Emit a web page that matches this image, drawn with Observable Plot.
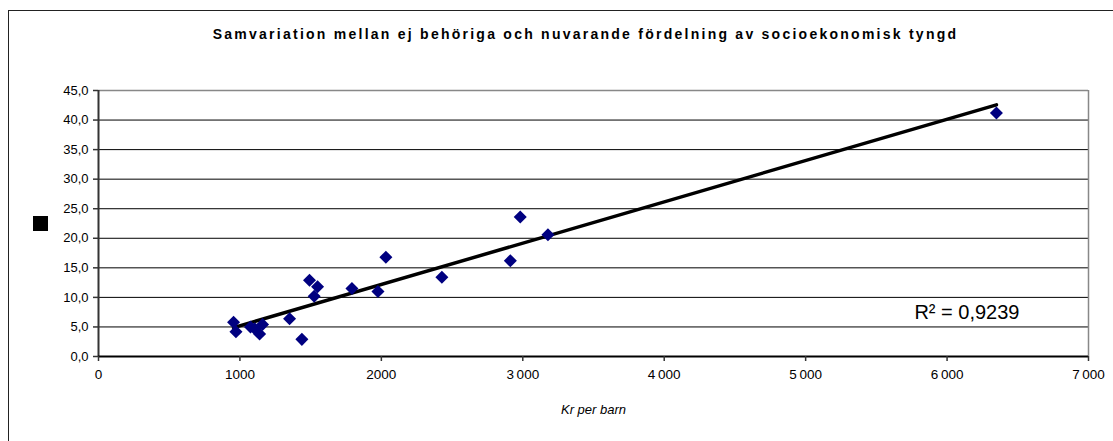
<!DOCTYPE html>
<html>
<head>
<meta charset="utf-8">
<script src="https://cdn.jsdelivr.net/npm/d3@7"></script>
<script src="https://cdn.jsdelivr.net/npm/@observablehq/plot@0.6"></script>
<style>
  html, body { margin: 0; padding: 0; background: #fff; }
  #wrap { position: relative; width: 1113px; height: 441px; overflow: hidden; font-family: "Liberation Sans", Arial, sans-serif; }
  #border { position: absolute; left: 8px; top: 10px; width: 1200px; height: 500px; border-left: 1px solid #222; border-top: 1px solid #222; }
  #title { position: absolute; left: 29px; width: 1113px; top: 26px; text-align: center; font-weight: bold; font-size: 14px; letter-spacing: 2.25px; color: #000; }
  #legendKey { position: absolute; left: 33px; top: 216px; width: 15px; height: 15px; background: #000; }
  #chart { position: absolute; left: 0; top: 0; }
</style>
</head>
<body>
<div id="wrap">
  <div id="border"></div>
  <div id="chart"></div>
  <div id="title"></div>
  <div id="legendKey"></div>
</div>
<script>
const titleText = "Samvariation mellan ej behöriga och nuvarande fördelning av socioekonomisk tyngd";
const xLabel = "Kr per barn";
const r2Label = "R² = 0,9239";

// Kr per barn
const krPerBarn = [955, 972, 1075, 1105, 1160, 1139, 1351, 1438, 1492, 1549, 1525, 1792, 1976, 2032, 2428, 2912, 2982, 3178, 6349];
// Ej behöriga (%)
const ejBehoriga = [5.8, 4.2, 5.0, 4.7, 5.4, 3.8, 6.4, 2.9, 12.9, 11.8, 10.2, 11.5, 11.0, 16.8, 13.4, 16.2, 23.6, 20.6, 41.2];

const xTicks = [0, 1000, 2000, 3000, 4000, 5000, 6000, 7000];
const xTickLabels = ["0", "1000", "2000", "3\u2009000", "4\u2009000", "5\u2009000", "6\u2009000", "7\u2009000"];
const yTicks = [0, 5, 10, 15, 20, 25, 30, 35, 40, 45];
const yTickLabels = ["0,0", "5,0", "10,0", "15,0", "20,0", "25,0", "30,0", "35,0", "40,0", "45,0"];

const data = krPerBarn.map((x, i) => ({x, y: ejBehoriga[i]}));

document.getElementById("title").textContent = titleText;

const chart = Plot.plot({
  width: 1113,
  height: 441,
  marginTop: 90,
  marginLeft: 98,
  marginRight: 25,
  marginBottom: 85,
  style: {fontFamily: "'Liberation Sans', Arial, sans-serif", background: "transparent", color: "#000"},
  x: {domain: [0, 7000]},
  y: {domain: [0, 45]},
  marks: [
    Plot.ruleY(yTicks.filter(d => d > 0 && d < 45), {stroke: "#000", strokeWidth: 1, strokeOpacity: 1}),
    Plot.ruleY([45], {stroke: "#888", strokeWidth: 1.5}),
    Plot.ruleX([7000], {stroke: "#888", strokeWidth: 1.5}),
    Plot.ruleX([0], {stroke: "#333", strokeWidth: 2}),
    Plot.ruleY([0], {stroke: "#000", strokeWidth: 2}),
    Plot.axisY({ticks: yTicks, tickFormat: (d) => yTickLabels[yTicks.indexOf(d)], tickSize: 5, tickPadding: 5, fontSize: 13, label: null, stroke: "#333", strokeWidth: 1.5, style: {letterSpacing: "1.2px"}}),
    Plot.axisX({ticks: xTicks, tickFormat: (d) => xTickLabels[xTicks.indexOf(d)], tickSize: 5, tickPadding: 8, fontSize: 13.5, label: null, stroke: "#333", strokeWidth: 1.5}),
    Plot.linearRegressionY(data, {x: "x", y: "y", stroke: "#000", strokeWidth: 3.5, ci: 0}),
    Plot.dot(data, {x: "x", y: "y", symbol: "square", rotate: 45, r: 5.2, fill: "#000080", stroke: "none"}),
    Plot.text([r2Label], {frameAnchor: "bottom-right", textAnchor: "end", lineAnchor: "bottom", dx: -69, dy: -38, fontSize: 20, fill: "#000"}),
    Plot.text([xLabel], {frameAnchor: "bottom", lineAnchor: "bottom", dy: 57, fontSize: 13, fontStyle: "italic", fill: "#000"})
  ]
});
document.getElementById("chart").appendChild(chart);
</script>
</body>
</html>
